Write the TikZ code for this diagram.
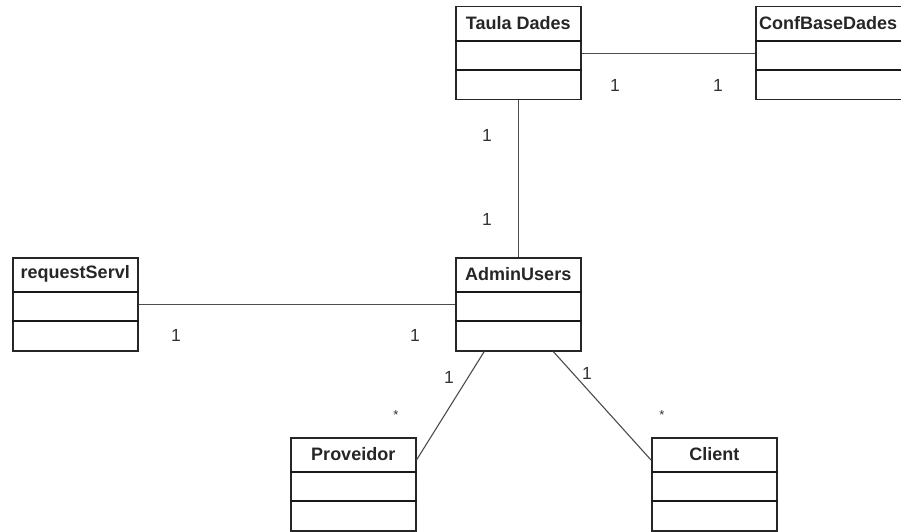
\documentclass[tikz,border=0pt]{standalone}
\usepackage{fontspec}
\setmainfont{Liberation Sans}
\usetikzlibrary{calc}

\tikzset{
  classbox/.style={draw=black!85, line width=1.5pt, fill=white,
    minimum width=125pt, minimum height=93pt, inner sep=0pt, anchor=north west},
  classtitle/.style={font=\fontsize{18}{20}\selectfont\bfseries, text=black!85, inner sep=0pt},
  divider/.style={draw=black!90, line width=1.5pt},
  assoc/.style={draw=black!70, line width=1.1pt},
  mult/.style={font=\fontsize{17.5}{19}\selectfont, text=black!80, inner sep=0pt},
  many/.style={font=\fontsize{13}{14}\selectfont, text=black!80, inner sep=0pt}
}

% class box: name, top-left corner, title
\newcommand\umlclass[3]{%
  \node[classbox] (#1) at (#2) {};
  \node[classtitle] (#1-title) at ($(#1.north)+(0,17)$) {#3};
  \draw[divider] ($(#1.north west)+(0,35)$) -- ($(#1.north east)+(0,35)$);
  \draw[divider] ($(#1.north west)+(0,64)$) -- ($(#1.north east)+(0,64)$);
}

\begin{document}
\begin{tikzpicture}[x=1pt, y=-1pt]
  \useasboundingbox (0,0) rectangle (901,532);
  \clip (0,0) rectangle (901,532);
  \fill[white] (0,0) rectangle (901,532);

  % classes
  \umlclass{taula}{455,6}{Taula Dades}
  \node[classbox, minimum width=170pt] (conf) at (755,6) {};
  \node[classtitle, anchor=west] (conf-title) at ($(conf.north west)+(4,17)$) {ConfBaseDades};
  \draw[divider] ($(conf.north west)+(0,35)$) -- ($(conf.north east)+(0,35)$);
  \draw[divider] ($(conf.north west)+(0,64)$) -- ($(conf.north east)+(0,64)$);
  \umlclass{admin}{455,257}{AdminUsers}
  \umlclass{req}{12,257}{requestServl}
  \umlclass{prov}{290,437}{Proveidor}
  \umlclass{client}{651,437}{Client}

  % associations
  \draw[assoc] (taula.east) -- (taula.east -| conf.west);
  \draw[assoc] (taula.south) -- (admin.north);
  \draw[assoc] (req.east) -- (admin.west);
  \draw[assoc] ($(admin.south)+(-34,0)$) -- ($(prov.north east)+(0,23)$);
  \draw[assoc] ($(admin.south)+(35,0)$) -- ($(client.north west)+(0,23)$);

  % multiplicities
  \node[mult] (m1) at (615,85) {1};
  \node[mult] (m2) at (718,85) {1};
  \node[mult] (m3) at (487,135) {1};
  \node[mult] (m4) at (487,219) {1};
  \node[mult] (m5) at (176,335) {1};
  \node[mult] (m6) at (415,335) {1};
  \node[mult] (m7) at (449,377) {1};
  \node[mult] (m8) at (587,373) {1};
  \node[many] (m9) at (396,415) {*};
  \node[many] (m10) at (662,415) {*};
\end{tikzpicture}
\end{document}
